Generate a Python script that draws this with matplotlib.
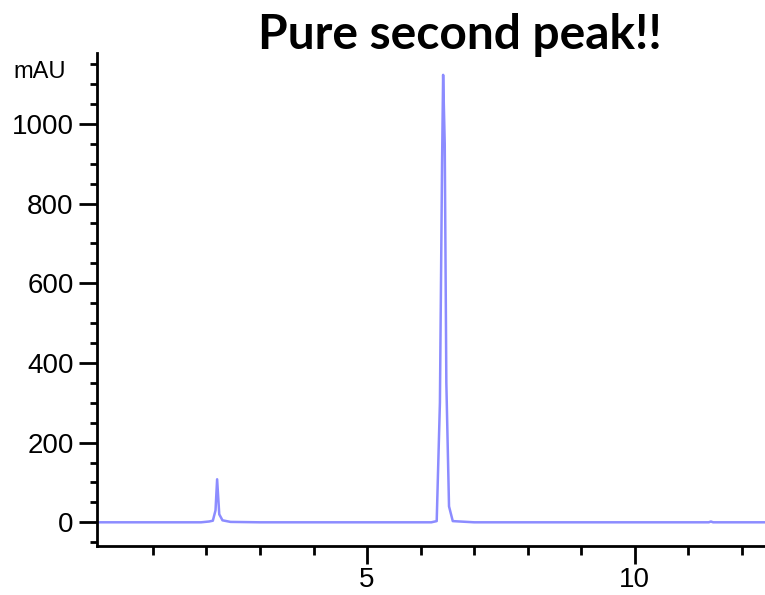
import matplotlib.pyplot as plt

# chromatogram (min, mAU)
time = [0.0, 1.9, 2.05, 2.12, 2.17, 2.2, 2.24, 2.3, 2.45, 3.0,
        6.2, 6.3, 6.36, 6.4, 6.42, 6.45, 6.48, 6.53, 6.6, 7.0,
        11.38, 11.42, 11.46, 12.5]
mau = [0, 0, 2, 4, 30, 108, 20, 5, 1, 0,
       0, 3, 300, 900, 1123, 950, 350, 40, 3, 0,
       0, 2, 0, 0]

xmajor = [5, 10]
xminor = [1, 2, 3, 4, 6, 7, 8, 9, 11, 12]
ymajor = [0, 200, 400, 600, 800, 1000]

fig = plt.figure(figsize=(7.65, 5.95), dpi=100)
ax = fig.add_axes([0.127, 0.082, 0.873, 0.829])

ax.plot(time, mau, color='#8c8cff', lw=1.8)

ax.set_xlim(-0.04, 12.43)
ax.set_ylim(-60, 1178)
ax.set_xticks(xmajor)
ax.set_xticks(xminor, minor=True)
ax.set_yticks(ymajor)
ax.set_yticks(range(-50, 1151, 50), minor=True)

for s in ['top', 'right']:
    ax.spines[s].set_visible(False)
for s in ['left', 'bottom']:
    ax.spines[s].set_linewidth(2)

ax.tick_params(which='major', length=13, width=2, labelsize=20, pad=4)
ax.tick_params(which='minor', length=5, width=2)
ax.tick_params(axis='x', which='minor', length=6.5)
ax.tick_params(axis='x', which='major', pad=2)
for lab in ax.get_xticklabels() + ax.get_yticklabels():
    lab.set_family('Liberation Sans')

fig.text(0.018, 0.879, 'mAU', fontsize=17, family='Liberation Sans', va='center')
fig.text(0.601, 0.941, 'Pure second peak!!', fontsize=34.5, fontweight='bold',
         family='Lato', ha='center', va='center')

fig.savefig('out.png', dpi=100)
